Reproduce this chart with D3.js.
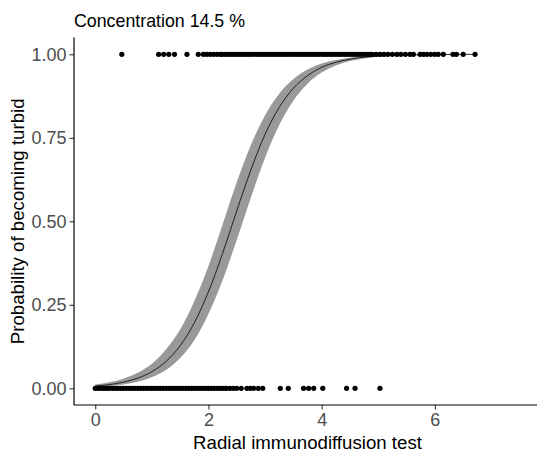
<!DOCTYPE html>
<html><head><meta charset="utf-8">
<script src="https://cdn.jsdelivr.net/npm/d3@7"></script>
<style>
html,body{margin:0;padding:0;background:#fff;}
text{font-family:"Liberation Sans",Arial,sans-serif;}
</style></head>
<body>
<svg id="chart" width="537" height="453"></svg>
<script>
// ---- data ----
const title = "Concentration 14.5 %";
const xLabel = "Radial immunodiffusion test";
const yLabel = "Probability of becoming turbid";
const xTicks = [0, 2, 4, 6];
const yTicks = [0, 0.25, 0.5, 0.75, 1];
const yTickLabels = ["0.00", "0.25", "0.50", "0.75", "1.00"];

// observations with outcome 0
const zeroX = [0.00,0.05,0.10,0.15,0.20,0.25,0.30,0.35,0.40,0.45,0.50,0.55,0.60,0.65,0.70,0.75,0.80,0.85,0.90,0.95,
  1.00,1.05,1.10,1.15,1.20,1.25,1.30,1.35,1.40,1.45,1.50,1.55,1.60,1.65,1.70,1.75,1.80,1.85,1.90,1.95,
  2.00,2.05,2.10,2.15,2.20,2.25,2.30,2.32,
  2.38,2.44,2.50,2.58,2.68,2.74,2.80,2.88,2.96,3.27,3.41,3.68,3.77,3.86,4.02,4.44,4.59,5.03];
// observations with outcome 1
const oneX = [0.47,1.12,1.21,1.30,1.40,1.62,1.82,1.91,1.97,2.03,2.09,2.15,2.21,
  2.25,2.30,2.35,2.40,2.45,2.50,2.55,2.60,2.65,2.70,2.75,2.80,2.85,2.90,2.95,3.00,3.05,3.10,3.15,3.20,
  3.25,3.30,3.35,3.40,3.45,3.50,3.55,3.60,3.65,3.70,3.75,3.80,3.85,3.90,3.95,4.00,4.05,4.10,4.15,4.20,
  4.25,4.30,4.35,4.40,4.45,4.50,4.55,4.60,4.65,4.70,4.75,4.80,4.85,
  4.89,4.96,5.03,5.10,5.17,5.25,5.33,5.40,5.48,5.56,5.62,5.74,5.80,5.86,5.93,6.00,6.06,6.15,6.32,6.38,6.50,6.71];

// fitted probability curve and its band
const curveX = [0,0.25,0.5,0.75,1.0,1.25,1.5,1.75,2.0,2.25,2.5,2.75,3.0,3.25,3.5,3.75,4.0,4.25,4.5,4.75,5.0,5.5,6.0,6.5,6.71];
const curveP = [0.0067,0.0111,0.0184,0.0304,0.0497,0.0804,0.1273,0.1958,0.289,0.404,0.531,0.654,0.760,0.841,0.898,0.936,0.961,0.976,0.9856,0.9913,0.9948,0.9981,0.9993,0.9998,0.9999];
const lowerP = [0.0039,0.0068,0.0117,0.0198,0.0332,0.0548,0.0908,0.1440,0.2227,0.3235,0.4440,0.5714,0.6900,0.7880,0.8612,0.9119,0.9453,0.9665,0.9797,0.9877,0.9926,0.9973,0.9990,0.9997,0.9998];
const upperP = [0.0115,0.0182,0.0289,0.0464,0.0738,0.1163,0.1758,0.2607,0.3659,0.4906,0.6166,0.7286,0.8176,0.8821,0.9258,0.9543,0.9721,0.9831,0.9898,0.9939,0.9963,0.9987,0.9995,0.9998,0.9999];

// ---- drawing ----
(function () {
const svg = d3.select("#chart");
const pLeft = 74, pRight = 541, pTop = 37.6, pBottom = 405;
const x = d3.scaleLinear().domain([-0.375, 7.875]).range([pLeft, pRight]);
const y = d3.scaleLinear().domain([-0.05, 1.05]).range([pBottom, pTop]);

const band = curveX.map((v, i) => ({x: v, lo: lowerP[i], hi: upperP[i], p: curveP[i]}));

svg.append("path").datum(band)
  .attr("fill", "#999999")
  .attr("d", d3.area().x(d => x(d.x)).y0(d => y(d.lo)).y1(d => y(d.hi)).curve(d3.curveMonotoneX));

svg.append("path").datum(band)
  .attr("fill", "none").attr("stroke", "#000").attr("stroke-width", 0.8)
  .attr("d", d3.line().x(d => x(d.x)).y(d => y(d.p)).curve(d3.curveMonotoneX));

const pts = zeroX.map(v => ({x: v, y: 0})).concat(oneX.map(v => ({x: v, y: 1})));
svg.append("g").selectAll("circle").data(pts).join("circle")
  .attr("cx", d => x(d.x)).attr("cy", d => y(d.y)).attr("r", 2.6).attr("fill", "#000");

// axes
const xAxis = svg.append("g").attr("transform", `translate(0,${pBottom})`)
  .call(d3.axisBottom(x).tickValues(xTicks).tickSize(4.5).tickPadding(4).tickFormat(d3.format("d")));
const yAxis = svg.append("g").attr("transform", `translate(${pLeft},0)`)
  .call(d3.axisLeft(y).tickValues(yTicks).tickSize(4.5).tickPadding(3).tickFormat((d, i) => yTickLabels[i]));
[xAxis, yAxis].forEach(g => {
  g.select(".domain").remove();
  g.selectAll(".tick line").attr("stroke", "#333333").attr("stroke-width", 1.1);
  g.selectAll(".tick text").attr("fill", "#4D4D4D").style("font-size", "18px")
    .style("font-family", "'Liberation Sans', Arial, sans-serif");
});
svg.append("line").attr("x1", pLeft).attr("x2", pRight).attr("y1", pBottom).attr("y2", pBottom)
  .attr("stroke", "#000").attr("stroke-width", 1.2);
svg.append("line").attr("x1", pLeft).attr("x2", pLeft).attr("y1", pTop).attr("y2", pBottom)
  .attr("stroke", "#000").attr("stroke-width", 1.2);

// titles
svg.append("text").attr("x", 74).attr("y", 27).attr("fill", "#000")
  .style("font-size", "17.8px").text(title);
svg.append("text").attr("x", (pLeft + pRight) / 2).attr("y", 449).attr("text-anchor", "middle")
  .attr("fill", "#000").style("font-size", "18.67px").text(xLabel);
svg.append("text").attr("transform", `translate(24,${(pTop + pBottom) / 2}) rotate(-90)`)
  .attr("text-anchor", "middle").attr("fill", "#000").style("font-size", "18.67px").text(yLabel);
})();
</script>
</body></html>
